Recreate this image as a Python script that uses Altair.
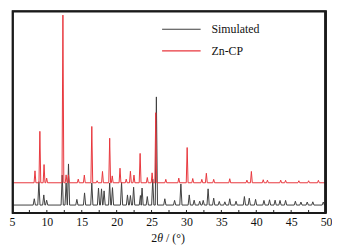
import altair as alt
import pandas as pd

# ---------------- data ----------------
x_min, x_max = 5, 50
label_values = [5, 10, 15, 20, 25, 30, 35, 40, 45, 50]
tick_values = [7.5, 10, 12.5, 15, 17.5, 20, 22.5, 25, 27.5, 30, 32.5,
               35, 37.5, 40, 42.5, 45, 47.5]

series_names = ["Simulated", "Zn-CP"]
series_colors = ["#3f3f3f", "#e8363c"]

sim_base = 3.9
sim_pos = [8.2, 8.86, 9.56, 9.97, 12.2, 12.76, 13.1, 14.3, 15.4, 16.44, 17.4,
           17.83, 18.2, 19.0, 19.4, 20.7, 21.55, 21.97, 22.43, 23.4, 23.64,
           24.39, 25.17, 25.69, 26.9, 28.3, 29.2, 30.4, 31.1, 31.9, 32.4, 33.1,
           33.9, 34.7, 35.5, 36.2, 37.1, 38.3, 39.0, 39.9, 41.1, 41.9, 42.7,
           43.4, 44.2, 45.6, 46.4, 47.3, 48.1, 49.6]
sim_int = [7.0, 15.4, 8.9, 6.3, 18.7, 14.8, 24.2, 6.7, 9.9, 14.8, 12.3,
           11.9, 10.9, 14.8, 12.5, 15.1, 8.9, 8.6, 12.7, 8.6, 12.3,
           8.1, 16.7, 57.3, 7.0, 6.2, 14.3, 8.9, 6.3, 5.8, 6.2, 11.9,
           7.3, 5.7, 5.5, 7.0, 5.8, 8.1, 7.3, 6.7, 6.2, 6.5, 6.3,
           6.2, 6.2, 5.8, 5.4, 5.4, 5.5, 5.4]

zn_base = 14.9
zn_pos = [8.30, 9.0, 9.6, 9.97, 12.3, 12.76, 13.1, 14.5, 15.37, 16.44, 17.2,
          17.97, 19.0, 19.37, 20.48, 21.37, 21.97, 22.48, 23.36, 24.39, 25.08,
          25.6, 27.04, 28.9, 30.1, 30.9, 32.2, 32.85, 33.9, 36.2, 38.66, 39.3,
          41.0, 41.6, 43.5, 44.2, 46.1, 47.5, 48.9]
zn_int = [20.8, 40.3, 23.9, 17.2, 97.7, 18.8, 18.8, 16.7, 18.7, 42.7, 15.9,
          20.5, 36.9, 18.3, 22.1, 16.7, 20.6, 18.7, 29.4, 17.5, 19.8,
          49.5, 16.6, 17.2, 32.3, 17.0, 16.6, 19.6, 16.6, 16.9, 16.2, 20.5,
          16.4, 16.2, 16.2, 16.1, 15.9, 15.9, 16.1]


def profile(name, base, pos, heights, half):
    xs, ys = [x_min], [base]
    for p, h in zip(pos, heights):
        xs += [p - half, p, p + half]
        ys += [base, h, base]
    xs.append(x_max)
    ys.append(base)
    return pd.DataFrame({"two_theta": xs, "intensity": ys,
                         "series": name, "order": list(range(len(xs)))})


df = pd.concat([profile("Simulated", sim_base, sim_pos, sim_int, 0.16),
                profile("Zn-CP", zn_base, zn_pos, zn_int, 0.13)],
               ignore_index=True)

W, H = 318, 205
FONT = "Times New Roman"
FRAME = "#1a1a1a"

xscale = alt.Scale(domain=[x_min, x_max], nice=False, zero=False)
yscale = alt.Scale(domain=[0, 100], nice=False, zero=False)
xaxis = alt.Axis(values=label_values, title=None, ticks=False,
                 domain=False, grid=False, labelFont=FONT,
                 labelFontSize=12, labelColor="#111",
                 labelPadding=4, labelFlush=False, labelOverlap=False)

lines = alt.Chart(df).mark_line(strokeWidth=1, clip=True).encode(
    x=alt.X("two_theta:Q", scale=xscale, axis=xaxis),
    y=alt.Y("intensity:Q", scale=yscale, axis=None),
    color=alt.Color("series:N",
                    scale=alt.Scale(domain=series_names, range=series_colors),
                    legend=None),
    order="order:Q",
    detail="series:N",
)

ticks = alt.Chart(pd.DataFrame({"t": tick_values})).mark_rule(
    color=FRAME, strokeWidth=1).encode(
    x=alt.X("t:Q", scale=xscale, axis=xaxis),
    y=alt.value(H),
    y2=alt.value(H - 3),
)

one = pd.DataFrame({"a": [0]})

frame = alt.Chart(one).mark_rect(fillOpacity=0, stroke=FRAME,
                                 strokeWidth=2).encode(
    x=alt.value(1), x2=alt.value(W - 1), y=alt.value(1), y2=alt.value(H))

leg_x0, leg_x1, leg_tx = 152, 191, 202
leg_y = [19, 41]

legend_layers = []
for name, col, yy in zip(series_names, series_colors, leg_y):
    legend_layers.append(
        alt.Chart(one).mark_rule(color=col, strokeWidth=1.2).encode(
            x=alt.value(leg_x0), x2=alt.value(leg_x1), y=alt.value(yy)))
    legend_layers.append(
        alt.Chart(one).mark_text(text=name, font=FONT, fontSize=12,
                                 align="left", baseline="middle",
                                 color="#111").encode(
            x=alt.value(leg_tx), y=alt.value(yy)))

title_y = 230
title_parts = [
    alt.Chart(one).mark_text(text="2", font=FONT, fontSize=12, align="left",
                             baseline="middle", color="#111").encode(
        x=alt.value(141), y=alt.value(title_y)),
    alt.Chart(one).mark_text(text="θ", font=FONT, fontSize=12, fontStyle="italic",
                             align="left", baseline="middle", color="#111").encode(
        x=alt.value(147), y=alt.value(title_y)),
    alt.Chart(one).mark_text(text="/ (°)", font=FONT, fontSize=12,
                             align="left", baseline="middle", color="#111").encode(
        x=alt.value(156), y=alt.value(title_y)),
]

chart = alt.layer(lines, ticks, frame, *legend_layers,
                  *title_parts).properties(
    width=W, height=H,
    autosize=alt.AutoSizeParams(type="none"),
    padding={"left": 4, "top": 1, "right": 6, "bottom": 34},
    background="white",
).configure(font=FONT).configure_view(stroke=FRAME, strokeWidth=1.2)

chart.save("out.html", embed_options={"renderer": "svg", "actions": False})
